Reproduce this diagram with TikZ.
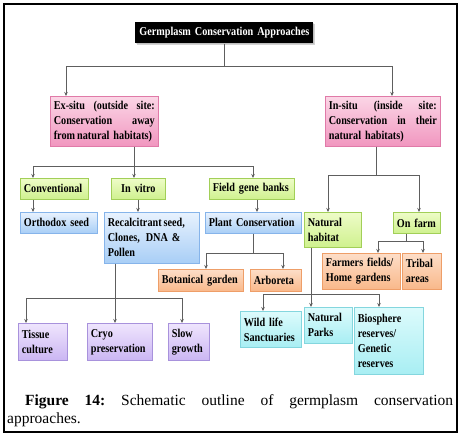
\documentclass[tikz,border=0pt]{standalone}
\usepackage{fontspec}
\setmainfont{Liberation Serif}
\newfontfamily\bxf{Liberation Serif}[FakeStretch=0.85]
\usetikzlibrary{arrows.meta,shadows}
\frenchspacing
\definecolor{pinkT}{HTML}{FBD6E6}\definecolor{pinkB}{HTML}{F196BF}\definecolor{pinkD}{HTML}{E07AA8}
\definecolor{greenT}{HTML}{EEFCC8}\definecolor{greenB}{HTML}{CFF18E}\definecolor{greenD}{HTML}{A2CF58}
\definecolor{blueT}{HTML}{E8F2FE}\definecolor{blueB}{HTML}{A8CEF6}\definecolor{blueD}{HTML}{86B4EA}
\definecolor{orangeT}{HTML}{FDDEC8}\definecolor{orangeB}{HTML}{F9B88A}\definecolor{orangeD}{HTML}{EE9E68}
\definecolor{cyanT}{HTML}{DDFBFC}\definecolor{cyanB}{HTML}{A8EEF3}\definecolor{cyanD}{HTML}{84D6DE}
\definecolor{purpT}{HTML}{EFE5FD}\definecolor{purpB}{HTML}{CBB6F3}\definecolor{purpD}{HTML}{A892DC}
\definecolor{conn}{HTML}{5E5E5E}
\newcommand\bx[7]{%
  \pgfmathsetmacro\bw{#5-#3}\pgfmathsetmacro\bh{#6-#4}\pgfmathsetmacro\tw{#5-#3-7}%
  \node[box,#2,anchor=north west,minimum width=\bw pt,minimum height=\bh pt,text width=\tw pt] (#1) at (#3,#4) {#7};}
\newcommand\jline[2]{\leavevmode\hbox to #1{#2}}
\begin{document}
\begin{tikzpicture}[x=1pt,y=-1pt,
  box/.style={rectangle,inner xsep=3.5pt,inner ysep=1pt,line width=0.7pt,align=left,
    font=\bxf\bfseries\fontsize{12}{15}\selectfont,
    drop shadow={shadow xshift=1pt,shadow yshift=-1pt,opacity=0.25}},
  pinkbox/.style={draw=pinkD,top color=pinkT,bottom color=pinkB},
  greenbox/.style={draw=greenD,top color=greenT,bottom color=greenB},
  bluebox/.style={draw=blueD,top color=blueT,bottom color=blueB},
  orangebox/.style={draw=orangeD,top color=orangeT,bottom color=orangeB},
  cyanbox/.style={draw=cyanD,top color=cyanT,bottom color=cyanB},
  purpbox/.style={draw=purpD,top color=purpT,bottom color=purpB},
  titlebox/.style={fill=black,text=white,align=center,
    drop shadow={shadow xshift=2pt,shadow yshift=-2pt,opacity=0.35}},
  ln/.style={draw=conn,line width=0.7pt},
  arr/.style={ln,-{Stealth[length=4pt,width=3.5pt]}}]
\useasboundingbox (0,0) rectangle (462,437);
\draw[line width=1.3pt] (4,4) rectangle (457,432);
% boxes
\bx{title}{titlebox}{135}{22}{313}{43}{Germplasm Conservation Approaches}
\bx{exsitu}{pinkbox}{50}{96}{158}{146}{\jline{101pt}{Ex-situ\hfill(outside\hfill site:}\\\jline{101pt}{Conservation\hfill away}\\from\,natural habitats)}
\bx{insitu}{pinkbox}{325}{96}{440}{146}{\jline{108pt}{In-situ\hfill(inside\hfill site:}\\\jline{108pt}{Conservation\hfill in\hfill their}\\natural habitats)}
\bx{conv}{greenbox}{20}{178}{88}{199}{Conventional}
\bx{invitro}{greenbox,align=center}{111}{178}{165}{199}{In vitro}
\bx{field}{greenbox}{209}{178}{294}{199}{Field gene banks}
\bx{ortho}{bluebox}{20}{212}{97}{233}{Orthodox seed}
\bx{recalc}{bluebox}{104}{212}{199}{263}{Recalcitrant\,seed,\\Clones,\, DNA \&\\Pollen}
\bx{plant}{bluebox}{205}{212}{301}{233}{Plant Conservation}
\bx{nathab}{greenbox}{304}{212}{361}{247}{Natural\\habitat}
\bx{onfarm}{greenbox}{393}{212}{440}{233}{On farm}
\bx{botan}{orangebox}{158}{269}{243}{291}{Botanical garden}
\bx{arbor}{orangebox}{250}{269}{301}{291}{Arboreta}
\bx{farmers}{orangebox}{322}{253}{400}{289}{Farmers fields/\\Home gardens}
\bx{tribal}{orangebox}{402}{253}{441}{289}{Tribal\\areas}
\bx{wild}{cyanbox}{240}{311}{301}{347}{Wild life\\Sanctuaries}
\bx{parks}{cyanbox}{304}{307}{352}{343}{Natural\\Parks}
\bx{bios}{cyanbox}{354}{307}{423}{374}{Biosphere\\reserves/\\Genetic\\reserves}
\bx{tissue}{purpbox}{18}{323}{67}{360}{Tissue\\culture}
\bx{cryo}{purpbox}{87}{323}{152}{360}{Cryo\\preservation}
\bx{slow}{purpbox}{168}{323}{209}{360}{Slow\\growth}
% junctions
\coordinate (j1) at (title.south |- 0,66);
\coordinate (j2) at (134,166);
\coordinate (j3) at (253,253);
\coordinate (j4) at (376,175);
\coordinate (j5) at (406,241);
\coordinate (j6) at (311,294);
\coordinate (j7) at (115,298);
% connectors
\draw[ln] (title.south) -- (j1);
\draw[arr] (j1) -| ([xshift=16pt]exsitu.north west);
\draw[arr] (j1) -| ([xshift=67pt]insitu.north west);
\draw[ln] (j2 |- exsitu.south) -- (j2);
\draw[arr] (j2) -| ([xshift=13pt]conv.north west);
\draw[arr] (j2) -- (j2 |- invitro.north);
\draw[arr] (j2) -| ([xshift=44pt]field.north west);
\draw[arr] ([xshift=13pt]conv.south west) -- ([xshift=13pt]ortho.north west);
\draw[arr] ([xshift=27pt]invitro.south west) -- ([xshift=34pt]recalc.north west);
\draw[arr] ([xshift=48pt]field.south west) -- ([xshift=52pt]plant.north west);
\draw[ln] (j3 |- plant.south) -- (j3);
\draw[arr] (j3) -| ([xshift=48pt]botan.north west);
\draw[arr] (j3) -| ([xshift=33pt]arbor.north west);
\draw[ln] (j4 |- insitu.south) -- (j4);
\draw[arr] (j4) -| ([xshift=24pt]nathab.north west);
\draw[arr] (j4) -| ([xshift=26pt]onfarm.north west);
\draw[ln] (j5 |- onfarm.south) -- (j5);
\draw[arr] (j5) -| ([xshift=56pt]farmers.north west);
\draw[arr] (j5) -| ([xshift=21pt]tribal.north west);
\draw[arr] (j6 |- nathab.south) -- (j6 |- parks.north);
\draw[arr] (j6) -| ([xshift=23pt]wild.north west);
\draw[arr] (j6) -| ([xshift=25pt]bios.north west);
\draw[ln] (j7 |- recalc.south) -- (j7);
\draw[arr] (j7) -| ([xshift=8pt]tissue.north west);
\draw[arr] (j7) -- (j7 |- cryo.north);
\draw[arr] (j7) -| ([xshift=14pt]slow.north west);
% caption
\node[anchor=base west,inner sep=0pt,font=\fontsize{15.5}{18}\selectfont] (cap1) at (25,405)
  {\makebox[428pt][s]{\textbf{Figure 14:} Schematic outline of germplasm conservation}};
\node[anchor=base west,inner sep=0pt,font=\fontsize{15.5}{18}\selectfont] (cap2) at (7,423) {approaches.};
\end{tikzpicture}
\end{document}
